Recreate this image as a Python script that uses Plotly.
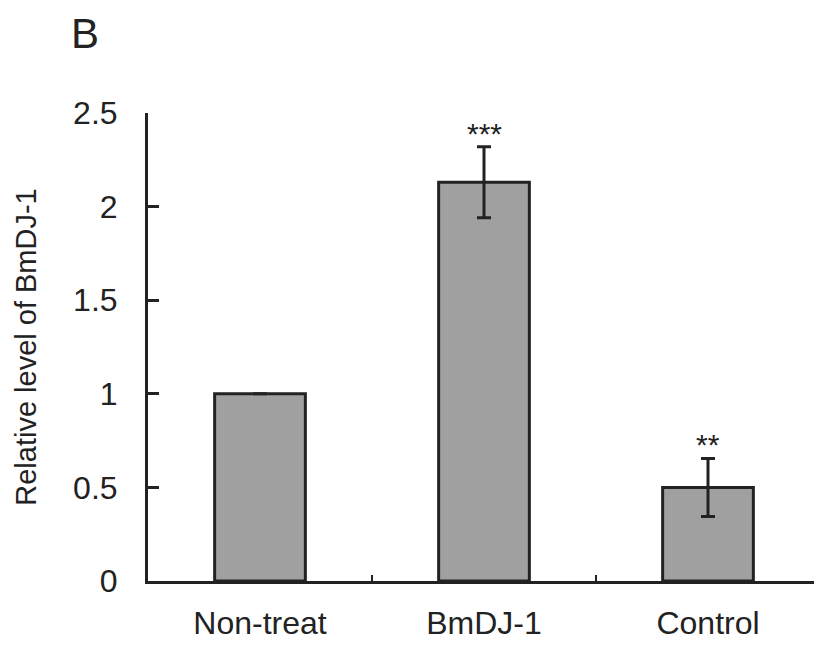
import plotly.graph_objects as go

categories = ["Non-treat", "BmDJ-1", "Control"]
values = [1.0, 2.13, 0.50]
errors = [0.0, 0.19, 0.155]
significance = ["", "***", "**"]
y_ticks = [0, 0.5, 1, 1.5, 2, 2.5]
y_tick_labels = ["0", "0.5", "1", "1.5", "2", "2.5"]

FONT = "Liberation Sans, Arial, sans-serif"
INK = "#222222"

W, H = 822, 647
L, R, T, B = 140, 10, 105, 74
PW, PH = W - L - R, H - T - B

fig = go.Figure()
fig.add_trace(go.Bar(
    x=categories, y=values,
    marker=dict(color="#a0a0a0", line=dict(color=INK, width=3)),
    error_y=dict(type="data", array=errors, visible=True, color=INK, thickness=3, width=7),
    showlegend=False,
))

for c, v, e, s in zip(categories, values, errors, significance):
    if s:
        fig.add_annotation(x=c, y=v + e, text=s, showarrow=False, yanchor="bottom",
                           yshift=-5, font=dict(family=FONT, size=30, color=INK))

fig.add_annotation(x=(77 - L) / PW, y=(H - B - 1) / PH, xref="paper", yref="paper", text="B",
                   showarrow=False, xanchor="center", yanchor="top", borderpad=0,
                   font=dict(family=FONT, size=42, color=INK))

fig.update_layout(
    width=W, height=H,
    margin=dict(l=L, r=R, t=T, b=B, autoexpand=False),
    paper_bgcolor="white", plot_bgcolor="white",
    bargap=0.595,
    font=dict(family=FONT, color=INK),
    yaxis=dict(
        range=[0, 2.5], tickvals=y_ticks, ticktext=y_tick_labels,
        ticks="inside", ticklen=11, tickwidth=2.5, tickcolor=INK,
        showline=True, linewidth=3, linecolor=INK, showgrid=False, zeroline=False,
        tickfont=dict(family=FONT, size=32, color=INK), ticklabelstandoff=21,
        automargin=False,
        title=dict(text="Relative level of BmDJ-1", font=dict(family=FONT, size=29, color=INK),
                   standoff=28),
    ),
    xaxis=dict(
        tickson="boundaries", ticks="inside", ticklen=6, tickwidth=2, tickcolor=INK,
        showline=True, linewidth=3, linecolor=INK, showgrid=False, zeroline=False,
        tickfont=dict(family=FONT, size=32, color=INK), ticklabelstandoff=12,
        automargin=False,
    ),
)

fig.write_html("out.html")
